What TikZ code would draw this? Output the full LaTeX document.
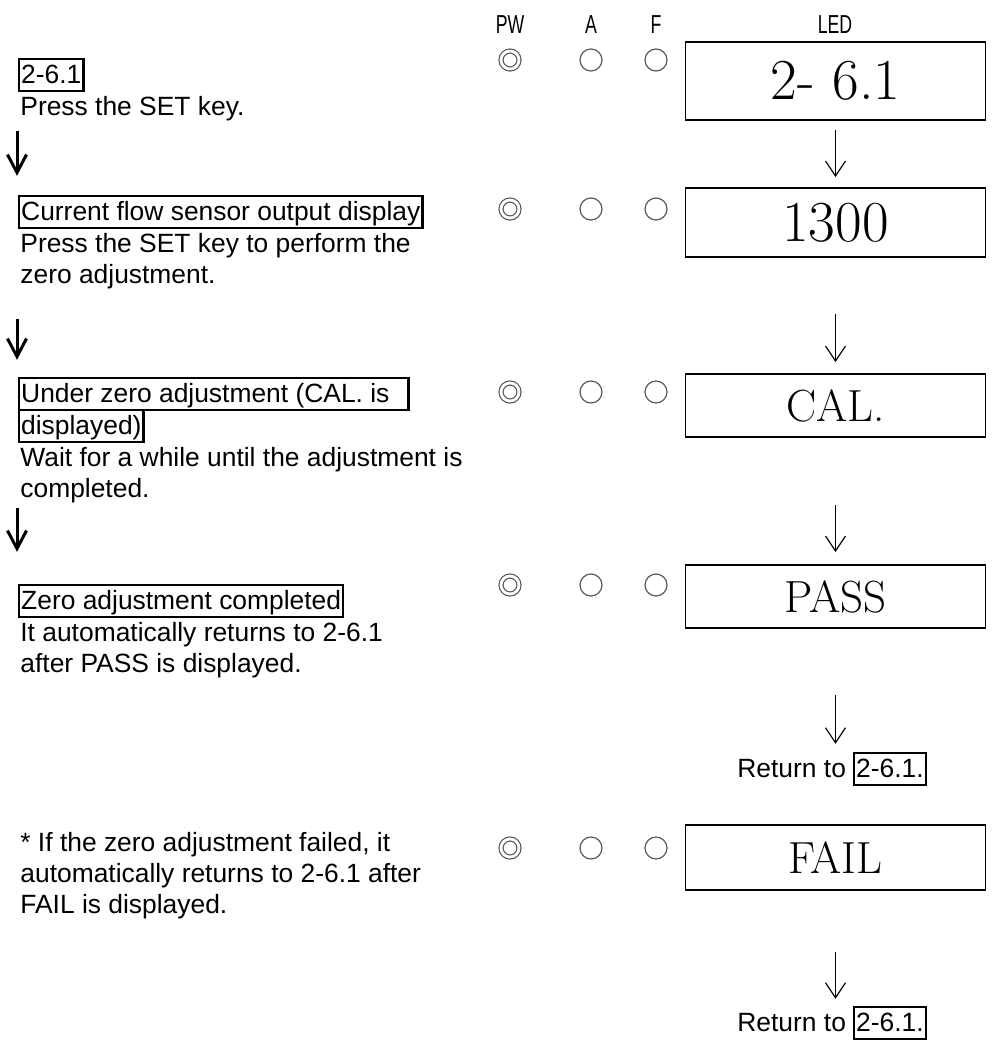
\documentclass[tikz,border=0pt]{standalone}
\usepackage{fontspec}
\usepackage{graphicx}
\usetikzlibrary{arrows.meta}
\newfontfamily\armfont{Liberation Sans}
\newcommand{\hdtext}[1]{\scalebox{0.68}[1]{#1}}

\begin{document}
\begin{tikzpicture}[x=0.5pt, y=-0.5pt,
  every node/.style={font=\armfont\fontsize{13.2}{15.3}\selectfont},
  head/.style={anchor=base, font=\armfont\fontsize{13}{13}\selectfont},
  lamp/.style={circle, draw=black!65, line width=0.6pt, minimum size=11pt, inner sep=0pt},
  pwlamp/.style={lamp, double, double distance=1.4pt, minimum size=9pt},
  led/.style={draw, line width=0.9pt, minimum width=150pt, inner sep=0pt},
  title/.style={draw, line width=1.2pt, anchor=base west, inner xsep=1pt, inner ysep=0.5pt,
    text height=11.5pt, text depth=3.5pt},
  body/.style={anchor=base west, align=left, inner sep=0pt},
  down/.style={-{Straight Barb[length=7.5pt, width=10pt]}, line width=0.6pt},
  bigdown/.style={-{Straight Barb[length=9pt, width=9.5pt]}, line width=1.5pt}]
  \useasboundingbox (0,0) rectangle (994,1050);

  % column heads
  \node[head] (hpw) at (510,33) {\hdtext{PW}};
  \node[head] (ha) at (591,33) {\hdtext{A}};
  \node[head] (hf) at (656,33) {\hdtext{F}};
  \node[head] (hled) at (835,33) {\hdtext{LED}};

  % 2-6.1  (body nodes sit on the baseline of their last line)
  \node[title] (t1) at (18,83) {2-6.1};
  \node[body] (b1) at (20,115) {Press the SET key.};
  \node[pwlamp] (pw1) at (510,60) {};
  \node[lamp] (a1) at (591,60) {};
  \node[lamp] (f1) at (656,60) {};
  \node[led, minimum height=39pt, font=\rmfamily\fontsize{29}{29}\selectfont] (led1)
    at (835.5,81) {2- 6.1};

  % sensor output
  \node[title] (t2) at (18,220) {Current flow sensor output display};
  \node[body] (b2) at (20,283) {Press the SET key to perform the\\zero adjustment.};
  \node[pwlamp] (pw2) at (510,209) {};
  \node[lamp] (a2) at (591,209) {};
  \node[lamp] (f2) at (656,209) {};
  \node[led, minimum height=34.5pt, font=\rmfamily\fontsize{29}{29}\selectfont] (led2)
    at (835.5,222.5) {1300};

  % zero adjustment
  \node[title] (t3a) at (18,402) {Under zero adjustment (CAL. is\hspace{8.5pt}\null};
  \node[title] (t3b) at (18,434) {displayed)};
  \node[body] (b3) at (20,497) {Wait for a while until the adjustment is\\completed.};
  \node[pwlamp] (pw3) at (510,392) {};
  \node[lamp] (a3) at (591,392) {};
  \node[lamp] (f3) at (656,392) {};
  \node[led, minimum height=31.5pt, font=\rmfamily\fontsize{22.5}{22.5}\selectfont] (led3)
    at (835.5,405.5) {CAL.};

  % completed
  \node[title] (t4) at (18,609) {Zero adjustment completed};
  \node[body] (b4) at (20,672) {It automatically returns to 2-6.1\\after PASS is displayed.};
  \node[pwlamp] (pw4) at (510,585) {};
  \node[lamp] (a4) at (591,585) {};
  \node[lamp] (f4) at (656,585) {};
  \node[led, minimum height=31.5pt, font=\rmfamily\fontsize{22.5}{22.5}\selectfont] (led4)
    at (835.5,596.5) {PASS};
  \node[body] (r1) at (737,777) {Return to};
  \node[title] (r1b) at (853,777) {2-6.1.};

  % failed
  \node[body] (b5) at (20,913) {* If the zero adjustment failed, it\\automatically returns to 2-6.1 after\\FAIL is displayed.};
  \node[pwlamp] (pw5) at (510,848) {};
  \node[lamp] (a5) at (591,848) {};
  \node[lamp] (f5) at (656,848) {};
  \node[led, minimum height=32.5pt, font=\rmfamily\fontsize{22.5}{22.5}\selectfont] (led5)
    at (835.5,857.5) {FAIL};
  \node[body] (r2) at (737,1031) {Return to};
  \node[title] (r2b) at (853,1031) {2-6.1.};

  % left flow
  \draw[bigdown] ([shift={(-3,10)}]b1.south west) -- ([shift={(-1,-19)}]t2.north west);
  \draw[bigdown] ([shift={(-3,30)}]b2.south west) -- ([shift={(-1,-17)}]t3a.north west);
  \draw[bigdown] ([shift={(-3,5)}]b3.south west) -- ([shift={(-1,-32)}]t4.north west);

  % display flow
  \draw[down, shorten <=4.5pt, shorten >=5pt] (led1.south) -- (led2.north);
  \draw[down, shorten <=28pt, shorten >=5.5pt] (led2.south) -- (led3.north);
  \draw[down, shorten <=33.5pt, shorten >=6pt] (led3.south) -- (led4.north);
  \draw[down, shorten <=33pt, shorten >=4pt] (led4.south) -- (led4.south |- r1b.north);
  \draw[down, shorten <=30.5pt, shorten >=3.5pt] (led5.south) -- (led5.south |- r2b.north);
\end{tikzpicture}
\end{document}
